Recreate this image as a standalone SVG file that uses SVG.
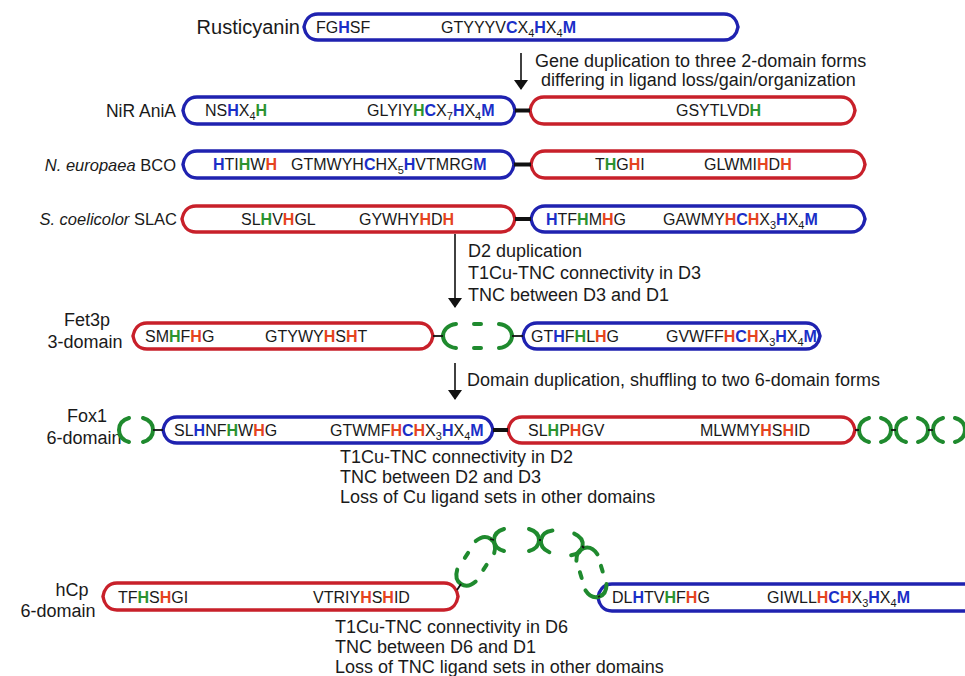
<svg xmlns="http://www.w3.org/2000/svg" width="965" height="676" viewBox="0 0 965 676">
<defs>
<style>
text{font-family:"Liberation Sans",Arial,sans-serif;fill:#1a1a1a}
.lab{font-size:18px}
.seq{font-size:16px}
.b{fill:#1b2fc8;font-weight:bold}
.g{fill:#2b9330;font-weight:bold}
.r{fill:#e5441f;font-weight:bold}
.sub{font-size:11px}
.pb{fill:none;stroke:#1f22b0;stroke-width:3.5}
.pr{fill:none;stroke:#c8202a;stroke-width:3.5}
.gp{fill:none;stroke:#1f8a2e;stroke-width:4;stroke-linecap:round}
.lk{stroke:#111;stroke-width:4}
.ln{stroke:#111;stroke-width:1.8}
.ar{stroke:#111;stroke-width:1.6}
</style>
<marker id="ah" viewBox="0 0 10 14" refX="9" refY="7" markerWidth="10" markerHeight="14" orient="auto" markerUnits="userSpaceOnUse">
<path d="M0,0 L10,7 L0,14 Z" fill="#111"/>
</marker>
</defs>
<rect width="965" height="676" fill="#fff"/>

<!-- Rusticyanin -->
<g id="rusticyanin">
<text class="lab" x="300" y="34" text-anchor="end" style="font-size:20px">Rusticyanin</text>
<path class="pb" d="M318,14 H724 C733,14 737,21 738,27 C737,33 733,40 724,40 H318 C309,40 305,33 304,27 C305,21 309,14 318,14 Z"/>
<text class="seq" x="316" y="33">FG<tspan class="b">H</tspan>SF</text>
<text class="seq" x="441" y="33">GTYYYV<tspan class="b">C</tspan>X<tspan class="sub" dy="4">4</tspan><tspan class="b" dy="-4">H</tspan>X<tspan class="sub" dy="4">4</tspan><tspan class="b" dy="-4">M</tspan></text>
</g>

<!-- NiR AniA -->
<g id="nir">
<text class="lab" x="176" y="117" text-anchor="end" style="font-size:17.5px">NiR AniA</text>
<path class="pb" d="M197,97 H501 C510,97 514,104 515,110.5 C514,117 510,124 501,124 H197 C188,124 184,117 183,110.5 C184,104 188,97 197,97 Z"/>
<path class="pr" d="M544,97 H841 C850,97 854,104 855,110.5 C854,117 850,124 841,124 H544 C535,124 531,117 530,110.5 C531,104 535,97 544,97 Z"/>
<text class="seq" x="205" y="116">NS<tspan class="b">H</tspan>X<tspan class="sub" dy="4">4</tspan><tspan class="g" dy="-4">H</tspan></text>
<text class="seq" x="367" y="116">GLYIY<tspan class="g">H</tspan><tspan class="b">C</tspan>X<tspan class="sub" dy="4">7</tspan><tspan class="b" dy="-4">H</tspan>X<tspan class="sub" dy="4">4</tspan><tspan class="b" dy="-4">M</tspan></text>
<text class="seq" x="676" y="116">GSYTLVD<tspan class="g">H</tspan></text>
</g>

<!-- N. europaea BCO -->
<g id="bco">
<text class="lab" x="176" y="171" text-anchor="end" style="font-size:16.5px"><tspan font-style="italic">N. europaea</tspan> BCO</text>
<path class="pb" d="M197,151 H500 C509,151 513,158 514,164.5 C513,171 509,178 500,178 H197 C188,178 184,171 183,164.5 C184,158 188,151 197,151 Z"/>
<path class="pr" d="M545,151 H851 C860,151 864,158 865,164.5 C864,171 860,178 851,178 H545 C536,178 532,171 531,164.5 C532,158 536,151 545,151 Z"/>
<text class="seq" x="213" y="170"><tspan class="b">H</tspan>TI<tspan class="g">H</tspan>W<tspan class="r">H</tspan></text>
<text class="seq" x="291" y="170">GTMWYH<tspan class="b">C</tspan>HX<tspan class="sub" dy="4">5</tspan><tspan class="b" dy="-4">H</tspan>VTMRG<tspan class="b">M</tspan></text>
<text class="seq" x="595" y="170">T<tspan class="g">H</tspan>G<tspan class="r">H</tspan>I</text>
<text class="seq" x="704" y="170">GLWMI<tspan class="r">H</tspan>D<tspan class="r">H</tspan></text>
</g>

<!-- S. coelicolor SLAC -->
<g id="slac">
<text class="lab" x="177" y="225" text-anchor="end" style="font-size:16.5px"><tspan font-style="italic">S. coelicolor</tspan> SLAC</text>
<path class="pr" d="M196,206 H501 C510,206 514,213 515,219 C514,225 510,232 501,232 H196 C187,232 183,225 182,219 C183,213 187,206 196,206 Z"/>
<path class="pb" d="M545,206 H851 C860,206 864,213 865,219 C864,225 860,232 851,232 H545 C536,232 532,225 531,219 C532,213 536,206 545,206 Z"/>
<text class="seq" x="241" y="225">SL<tspan class="g">H</tspan>V<tspan class="r">H</tspan>GL</text>
<text class="seq" x="359" y="225">GYWHY<tspan class="r">H</tspan>D<tspan class="r">H</tspan></text>
<text class="seq" x="546" y="225"><tspan class="b">H</tspan>TF<tspan class="g">H</tspan>M<tspan class="r">H</tspan>G</text>
<text class="seq" x="663" y="225">GAWMY<tspan class="r">H</tspan><tspan class="b">C</tspan><tspan class="r">H</tspan>X<tspan class="sub" dy="4">3</tspan><tspan class="b" dy="-4">H</tspan>X<tspan class="sub" dy="4">4</tspan><tspan class="b" dy="-4">M</tspan></text>
</g>

<!-- Fet3p -->
<g id="fet3p">
<text class="lab" x="87" y="326" text-anchor="middle">Fet3p</text>
<text class="lab" x="85" y="348" text-anchor="middle">3-domain</text>
<path class="pr" d="M147,323 H419 C428,323 432,330 433,336 C432,342 428,349 419,349 H147 C138,349 134,342 133,336 C134,330 138,323 147,323 Z"/>
<g transform="translate(443,336)">
<path class="gp" d="M13,-12 C4,-11 0,-5 0,0 C0,5 4,11 13,12"/>
<path class="gp" d="M56,-12 C65,-11 69,-5 69,0 C69,5 65,11 56,12"/>
<path class="gp" d="M31,-12 H38 M31,12 H38"/>
</g>
<path class="pb" d="M537,323 H806 C815,323 819,330 820,336 C819,342 815,349 806,349 H537 C528,349 524,342 523,336 C524,330 528,323 537,323 Z"/>
<text class="seq" x="145" y="342">SM<tspan class="g">H</tspan>F<tspan class="r">H</tspan>G</text>
<text class="seq" x="265" y="342">GTYWY<tspan class="r">H</tspan>S<tspan class="r">H</tspan>T</text>
<text class="seq" x="531" y="342">GT<tspan class="b">H</tspan>F<tspan class="g">H</tspan>L<tspan class="r">H</tspan>G</text>
<text class="seq" x="666" y="342">GVWFF<tspan class="r">H</tspan><tspan class="b">C</tspan><tspan class="r">H</tspan>X<tspan class="sub" dy="4">3</tspan><tspan class="b" dy="-4">H</tspan>X<tspan class="sub" dy="4">4</tspan><tspan class="b" dy="-4">M</tspan></text>
</g>

<!-- Fox1 -->
<g id="fox1">
<text class="lab" x="87" y="422" text-anchor="middle">Fox1</text>
<text class="lab" x="84" y="444" text-anchor="middle">6-domain</text>
<g transform="translate(119,430)">
<path class="gp" d="M10,-12 C3,-10 0,-5 0,0 C0,5 3,10 10,12"/>
<path class="gp" d="M24,-12 C31,-10 34,-5 34,0 C34,5 31,10 24,12"/>
</g>
<path class="pb" d="M177,417 H479 C488,417 492,424 493,430 C492,436 488,443 479,443 H177 C168,443 164,436 163,430 C164,424 168,417 177,417 Z"/>
<path class="pr" d="M522,417 H841 C850,417 854,424 855,430 C854,436 850,443 841,443 H522 C513,443 509,436 508,430 C509,424 513,417 522,417 Z"/>
<g transform="translate(859,430)">
<path class="gp" d="M10,-12 C3,-10 0,-5 0,0 C0,5 3,10 10,12"/>
<path class="gp" d="M22,-12 C29,-10 32,-5 32,0 C32,5 29,10 22,12"/>
</g>
<g transform="translate(896,430)">
<path class="gp" d="M10,-12 C3,-10 0,-5 0,0 C0,5 3,10 10,12"/>
<path class="gp" d="M22,-12 C29,-10 32,-5 32,0 C32,5 29,10 22,12"/>
</g>
<g transform="translate(933,430)">
<path class="gp" d="M10,-12 C3,-10 0,-5 0,0 C0,5 3,10 10,12"/>
<path class="gp" d="M22,-12 C29,-10 32,-5 32,0 C32,5 29,10 22,12"/>
</g>
<text class="seq" x="174" y="436">SL<tspan class="b">H</tspan>NF<tspan class="g">H</tspan>W<tspan class="r">H</tspan>G</text>
<text class="seq" x="330" y="436">GTWMF<tspan class="r">H</tspan><tspan class="b">C</tspan><tspan class="r">H</tspan>X<tspan class="sub" dy="4">3</tspan><tspan class="b" dy="-4">H</tspan>X<tspan class="sub" dy="4">4</tspan><tspan class="b" dy="-4">M</tspan></text>
<text class="seq" x="528" y="436">SL<tspan class="g">H</tspan>P<tspan class="r">H</tspan>GV</text>
<text class="seq" x="700" y="436">MLWMY<tspan class="r">H</tspan>S<tspan class="r">H</tspan>ID</text>
</g>

<!-- hCp -->
<g id="hcp">
<text class="lab" x="72" y="596" text-anchor="middle">hCp</text>
<text class="lab" x="58" y="617" text-anchor="middle">6-domain</text>
<path class="pr" d="M117,583 H444 C453,583 457,590 458,596.5 C457,603 453,610 444,610 H117 C108,610 104,603 103,596.5 C104,590 108,583 117,583 Z"/>
<path class="pb" d="M612,584 H964 C973,584 977,591 978,597.5 C977,604 973,611 964,611 H612 C603,611 599,604 598,597.5 C599,591 603,584 612,584 Z"/>
<g transform="translate(461,584) rotate(-57)">
<path class="gp" d="M10,-11 C3,-9 0,-5 0,0 C0,5 3,9 10,11"/>
<path class="gp" d="M44,-11 C51,-9 54,-5 54,0 C54,5 51,9 44,11"/>
<path class="gp" d="M24,-11 H30 M24,11 H30"/>
</g>
<g transform="translate(494,540)">
<path class="gp" d="M10,-11 C3,-9 0,-5 0,0 C0,5 3,9 10,11"/>
<path class="gp" d="M35,-11 C42,-9 45,-5 45,0 C45,5 42,9 35,11"/>
</g>
<g transform="translate(541,540) rotate(8)">
<path class="gp" d="M10,-11 C3,-9 0,-5 0,0 C0,5 3,9 10,11"/>
<path class="gp" d="M32,-11 C39,-9 42,-5 42,0 C42,5 39,9 32,11"/>
</g>
<g transform="translate(584,548) rotate(73)">
<path class="gp" d="M10,-11 C3,-9 0,-5 0,0 C0,5 3,9 10,11"/>
<path class="gp" d="M41,-11 C48,-9 51,-5 51,0 C51,5 48,9 41,11"/>
<path class="gp" d="M22,-11 H28 M22,11 H28"/>
</g>
<text class="seq" x="118" y="603">TF<tspan class="g">H</tspan>S<tspan class="r">H</tspan>GI</text>
<text class="seq" x="313" y="603">VTRIY<tspan class="r">H</tspan>S<tspan class="r">H</tspan>ID</text>
<text class="seq" x="612" y="603">DL<tspan class="b">H</tspan>TV<tspan class="g">H</tspan>F<tspan class="r">H</tspan>G</text>
<text class="seq" x="767" y="603">GIWLL<tspan class="r">H</tspan><tspan class="b">C</tspan><tspan class="r">H</tspan>X<tspan class="sub" dy="4">3</tspan><tspan class="b" dy="-4">H</tspan>X<tspan class="sub" dy="4">4</tspan><tspan class="b" dy="-4">M</tspan></text>
</g>

<!-- annotations -->
<g id="notes">
<text class="lab" x="535" y="67">Gene duplication to three 2-domain forms</text>
<text class="lab" x="541" y="86">differing in ligand loss/gain/organization</text>
<text class="lab" x="468" y="257">D2 duplication</text>
<text class="lab" x="468" y="279">T1Cu-TNC connectivity in D3</text>
<text class="lab" x="468" y="301">TNC between D3 and D1</text>
<text class="lab" x="467" y="386">Domain duplication, shuffling to two 6-domain forms</text>
<text class="lab" x="340" y="463">T1Cu-TNC connectivity in D2</text>
<text class="lab" x="340" y="483">TNC between D2 and D3</text>
<text class="lab" x="340" y="503">Loss of Cu ligand sets in other domains</text>
<text class="lab" x="335" y="633">T1Cu-TNC connectivity in D6</text>
<text class="lab" x="335" y="653">TNC between D6 and D1</text>
<text class="lab" x="335" y="673">Loss of TNC ligand sets in other domains</text>
</g>

<!-- connectors -->
<g id="connectors">
<line class="ar" x1="521" y1="53" x2="521" y2="89" marker-end="url(#ah)"/>
<line class="ar" x1="455" y1="234" x2="455" y2="307" marker-end="url(#ah)"/>
<line class="ar" x1="455" y1="363" x2="455" y2="399" marker-end="url(#ah)"/>
<line class="lk" x1="515" y1="110.5" x2="530" y2="110.5"/>
<line class="lk" x1="514" y1="164.5" x2="531" y2="164.5"/>
<line class="lk" x1="515" y1="219" x2="531" y2="219"/>
<line class="ln" x1="433" y1="336" x2="443" y2="336"/>
<line class="ln" x1="512" y1="336" x2="523" y2="336"/>
<line class="ln" x1="153" y1="430" x2="163" y2="430"/>
<line class="lk" x1="493" y1="430" x2="508" y2="430"/>
<line class="ln" x1="855" y1="430" x2="859" y2="430"/>
<line class="ln" x1="891" y1="430" x2="896" y2="430"/>
<line class="ln" x1="928" y1="430" x2="933" y2="430"/>
<line class="ln" x1="457" y1="590" x2="461" y2="584"/>
<line class="ln" x1="490" y1="539" x2="494" y2="540"/>
<line class="ln" x1="539" y1="540" x2="541" y2="540"/>
<line class="ln" x1="582" y1="546" x2="584" y2="548"/>
<line class="ln" x1="600" y1="596" x2="598" y2="597"/>
</g>
</svg>
